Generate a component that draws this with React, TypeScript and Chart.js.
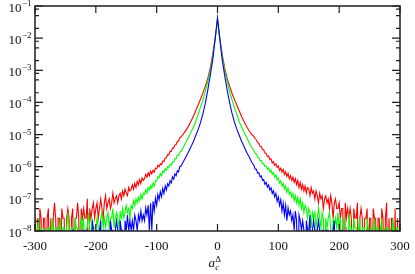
import React, { useEffect, useRef } from "react";
import { Chart, registerables } from "chart.js";

Chart.register(...registerables);

// bin centres (a_c^Δ): step 2 in the tails, step 4 around the peak
const xValues = [
  -300, -298, -296, -294, -292, -290, -288, -286, -284, -282,
  -280, -278, -276, -274, -272, -270, -268, -266, -264, -262,
  -260, -258, -256, -254, -252, -250, -248, -246, -244, -242,
  -240, -238, -236, -234, -232, -230, -228, -226, -224, -222,
  -220, -218, -216, -214, -212, -210, -208, -206, -204, -202,
  -200, -198, -196, -194, -192, -190, -188, -186, -184, -182,
  -180, -178, -176, -174, -172, -170, -168, -166, -164, -162,
  -160, -158, -156, -154, -152, -150, -148, -146, -144, -142,
  -140, -138, -136, -134, -132, -130, -128, -126, -124, -122,
  -120, -118, -116, -114, -112, -110, -108, -106, -104, -102,
  -100, -98, -96, -94, -92, -90, -88, -86, -84, -82,
  -80, -78, -76, -74, -72, -70, -68, -66, -64, -62,
  -60,
  -56, -52, -48, -44, -40, -36, -32, -28, -24, -20, -16, -12, -8, -4,
  0,
  4, 8, 12, 16, 20, 24, 28, 32, 36, 40, 44, 48, 52, 56,
  60, 62, 64, 66, 68, 70, 72, 74, 76, 78,
  80, 82, 84, 86, 88, 90, 92, 94, 96, 98,
  100, 102, 104, 106, 108, 110, 112, 114, 116, 118,
  120, 122, 124, 126, 128, 130, 132, 134, 136, 138,
  140, 142, 144, 146, 148, 150, 152, 154, 156, 158,
  160, 162, 164, 166, 168, 170, 172, 174, 176, 178,
  180, 182, 184, 186, 188, 190, 192, 194, 196, 198,
  200, 202, 204, 206, 208, 210, 212, 214, 216, 218,
  220, 222, 224, 226, 228, 230, 232, 234, 236, 238,
  240, 242, 244, 246, 248, 250, 252, 254, 256, 258,
  260, 262, 264, 266, 268, 270, 272, 274, 276, 278,
  280, 282, 284, 286, 288, 290, 292, 294, 296, 298,
  300,
];

// probability per bin; empty bins are 0
const redValues = [
  2.5e-8, 0, 2.5e-8, 0, 5e-8, 2.5e-8, 0, 2.5e-8, 2.5e-8, 0,
  2.5e-8, 5e-8, 0, 2.5e-8, 0, 2.5e-8, 7.5e-8, 2.5e-8, 0, 2.5e-8,
  2.5e-8, 0, 5e-8, 2.5e-8, 2.5e-8, 0, 2.5e-8, 5e-8, 2.5e-8, 0,
  2.5e-8, 5e-8, 0, 2.5e-8, 2.5e-8, 7.5e-8, 2.5e-8, 0, 5e-8, 2.5e-8,
  5e-8, 2.5e-8, 2.5e-8, 1e-7, 0, 5e-8, 2.5e-8, 5e-8, 7.5e-8, 2.5e-8,
  5e-8, 7.5e-8, 2.5e-8, 5e-8, 1e-7, 5e-8, 2.5e-8, 7.5e-8, 1.25e-7, 5e-8,
  7.5e-8, 1e-7, 5e-8, 7.5e-8, 1.5e-7, 7.5e-8, 1e-7, 1.25e-7, 7.5e-8, 1.25e-7,
  1.5e-7, 1e-7, 1.75e-7, 1.25e-7, 2e-7, 1.5e-7, 1.25e-7, 2.25e-7, 1.75e-7, 2e-7,
  2.75e-7, 2e-7, 3e-7, 2.25e-7, 3.5e-7, 2.75e-7, 4e-7, 3e-7, 4.5e-7, 3.75e-7,
  4.25e-7, 5.75e-7, 4.75e-7, 6.5e-7, 5.25e-7, 7.25e-7, 6e-7, 7.75e-7, 6.75e-7, 9e-7,
  8.75e-7, 1.1e-6, 1e-6, 1.25e-6, 1.15e-6, 1.5e-6, 1.45e-6, 1.875e-6, 1.9e-6, 2.375e-6,
  2.35e-6, 3.0e-6, 3.0e-6, 3.8e-6, 3.8e-6, 4.7e-6, 4.9e-6, 6.1e-6, 6.3e-6, 7.9e-6,
  8.4e-6,
  1.05e-5, 1.35e-5, 1.8e-5, 2.5e-5, 3.6e-5, 5.4e-5, 8.2e-5, 1.25e-4, 1.95e-4, 3.2e-4, 5.6e-4, 1.15e-3, 3.0e-3, 9.5e-3,
  3.7e-2,
  9.3e-3, 2.9e-3, 1.12e-3, 5.5e-4, 3.15e-4, 1.9e-4, 1.22e-4, 8.0e-5, 5.3e-5, 3.5e-5, 2.45e-5, 1.75e-5, 1.32e-5, 1.02e-5,
  8.6e-6, 7.4e-6, 6.8e-6, 5.6e-6, 5.3e-6, 4.3e-6, 4.2e-6, 3.4e-6, 3.3e-6, 2.65e-6,
  2.6e-6, 2.05e-6, 2.15e-6, 1.65e-6, 1.75e-6, 1.3e-6, 1.45e-6, 1.1e-6, 1.22e-6, 9.5e-7,
  1.05e-6, 7.75e-7, 9e-7, 6.75e-7, 8.25e-7, 5.75e-7, 7e-7, 5e-7, 6.25e-7, 4.25e-7,
  5.25e-7, 3.75e-7, 4.75e-7, 3.25e-7, 4.25e-7, 2.75e-7, 3.75e-7, 2.25e-7, 3.25e-7, 2e-7,
  2.75e-7, 1.75e-7, 2.5e-7, 1.5e-7, 2.25e-7, 2e-7, 1.25e-7, 2.25e-7, 1.5e-7, 1.75e-7,
  1e-7, 1.75e-7, 1.25e-7, 7.5e-8, 1.5e-7, 1e-7, 1.25e-7, 5e-8, 1e-7, 1.25e-7,
  7.5e-8, 1e-7, 5e-8, 1.25e-7, 7.5e-8, 2.5e-8, 7.5e-8, 1e-7, 5e-8, 5e-8,
  7.5e-8, 2.5e-8, 5e-8, 5e-8, 0, 7.5e-8, 2.5e-8, 5e-8, 2.5e-8, 5e-8,
  2.5e-8, 0, 5e-8, 2.5e-8, 2.5e-8, 7.5e-8, 0, 2.5e-8, 5e-8, 2.5e-8,
  0, 2.5e-8, 2.5e-8, 5e-8, 0, 2.5e-8, 2.5e-8, 0, 5e-8, 2.5e-8,
  2.5e-8, 0, 2.5e-8, 2.5e-8, 0, 5e-8, 2.5e-8, 0, 2.5e-8, 7.5e-8,
  0, 2.5e-8, 0, 2.5e-8, 2.5e-8, 0, 5e-8, 0, 2.5e-8, 0,
  2.5e-8,
];

const greenValues = [
  1.25e-8, 0, 1.25e-8, 2.5e-8, 0, 1.25e-8, 0, 1.25e-8, 0, 1.25e-8,
  0, 1.25e-8, 1.25e-8, 0, 2.5e-8, 1.25e-8, 0, 1.25e-8, 1.25e-8, 0,
  1.25e-8, 2.5e-8, 0, 1.25e-8, 1.25e-8, 0, 1.25e-8, 3.75e-8, 1.25e-8, 0,
  1.25e-8, 1.25e-8, 0, 2.5e-8, 1.25e-8, 1.25e-8, 0, 1.25e-8, 2.5e-8, 1.25e-8,
  2.5e-8, 0, 1.25e-8, 1.25e-8, 3.75e-8, 1.25e-8, 0, 2.5e-8, 1.25e-8, 1.25e-8,
  1.25e-8, 2.5e-8, 1.25e-8, 0, 2.5e-8, 3.75e-8, 1.25e-8, 2.5e-8, 1.25e-8, 2.5e-8,
  3.75e-8, 1.25e-8, 2.5e-8, 2.5e-8, 5e-8, 1.25e-8, 2.5e-8, 3.75e-8, 2.5e-8, 1.25e-8,
  3.75e-8, 2.5e-8, 5e-8, 2.5e-8, 3.75e-8, 6.25e-8, 3.75e-8, 5e-8, 2.5e-8, 6.25e-8,
  5e-8, 8.75e-8, 6.25e-8, 1e-7, 7.5e-8, 1.125e-7, 8.75e-8, 1.375e-7, 1e-7, 1.5e-7,
  1.375e-7, 1.875e-7, 1.5e-7, 2.25e-7, 1.875e-7, 2.625e-7, 2.125e-7, 3.125e-7, 2.5e-7, 3.625e-7,
  3.6e-7, 4.9e-7, 4.5e-7, 6.1e-7, 5.3e-7, 7.3e-7, 6.6e-7, 8.6e-7, 7.8e-7, 1.0e-6,
  9.2e-7, 1.18e-6, 1.1e-6, 1.42e-6, 1.38e-6, 1.78e-6, 1.75e-6, 2.3e-6, 2.25e-6, 2.85e-6,
  2.95e-6,
  4.0e-6, 5.7e-6, 8.0e-6, 1.15e-5, 1.65e-5, 2.5e-5, 4.1e-5, 7.0e-5, 1.2e-4, 2.2e-4, 4.4e-4, 9.5e-4, 2.5e-3, 9.1e-3,
  3.8e-2,
  8.9e-3, 2.45e-3, 9.3e-4, 4.3e-4, 2.15e-4, 1.18e-4, 6.9e-5, 4.15e-5, 2.45e-5, 1.68e-5, 1.12e-5, 8.2e-6, 5.6e-6, 4.1e-6,
  3.1e-6, 2.55e-6, 2.5e-6, 2.0e-6, 1.95e-6, 1.55e-6, 1.56e-6, 1.22e-6, 1.27e-6, 1.02e-6,
  1.06e-6, 8.4e-7, 9.2e-7, 7.0e-7, 7.9e-7, 5.8e-7, 6.6e-7, 4.8e-7, 5.6e-7, 3.9e-7,
  4.375e-7, 3.125e-7, 3.625e-7, 2.5e-7, 3e-7, 2e-7, 2.5e-7, 1.625e-7, 2.125e-7, 1.375e-7,
  1.625e-7, 1.125e-7, 1.5e-7, 8.75e-8, 1.25e-7, 7.5e-8, 1.125e-7, 6.25e-8, 1e-7, 5e-8,
  7.5e-8, 3.75e-8, 6.25e-8, 5e-8, 2.5e-8, 5e-8, 3.75e-8, 1.25e-8, 3.75e-8, 2.5e-8,
  3.75e-8, 1.25e-8, 2.5e-8, 5e-8, 2.5e-8, 1.25e-8, 3.75e-8, 2.5e-8, 0, 2.5e-8,
  1.25e-8, 2.5e-8, 3.75e-8, 1.25e-8, 0, 2.5e-8, 1.25e-8, 2.5e-8, 1.25e-8, 3.75e-8,
  1.25e-8, 2.5e-8, 0, 1.25e-8, 2.5e-8, 1.25e-8, 1.25e-8, 0, 3.75e-8, 1.25e-8,
  1.25e-8, 0, 2.5e-8, 1.25e-8, 1.25e-8, 0, 1.25e-8, 2.5e-8, 0, 1.25e-8,
  1.25e-8, 1.25e-8, 0, 2.5e-8, 1.25e-8, 0, 1.25e-8, 0, 1.25e-8, 2.5e-8,
  0, 1.25e-8, 1.25e-8, 0, 1.25e-8, 2.5e-8, 0, 1.25e-8, 0, 1.25e-8,
  1.25e-8, 0, 1.25e-8, 0, 2.5e-8, 1.25e-8, 0, 1.25e-8, 1.25e-8, 0,
  1.25e-8,
];

const blueValues = [
  0, 0, 1.05e-8, 0, 0, 0, 0, 1.05e-8, 0, 0,
  0, 1.05e-8, 0, 0, 0, 1.05e-8, 0, 0, 1.05e-8, 0,
  0, 1.05e-8, 0, 1.05e-8, 0, 0, 1.05e-8, 0, 0, 1.05e-8,
  0, 1.05e-8, 1.05e-8, 0, 0, 1.05e-8, 0, 1.05e-8, 0, 1.05e-8,
  1.05e-8, 0, 1.05e-8, 1.05e-8, 0, 1.05e-8, 0, 2.1e-8, 1.05e-8, 0,
  1.05e-8, 1.05e-8, 0, 1.05e-8, 2.1e-8, 0, 1.05e-8, 1.05e-8, 0, 1.05e-8,
  1.05e-8, 0, 2.1e-8, 1.05e-8, 1.05e-8, 0, 1.05e-8, 2.1e-8, 1.05e-8, 0,
  2.1e-8, 1.05e-8, 1.05e-8, 0, 2.1e-8, 1.05e-8, 3.15e-8, 1.05e-8, 2.1e-8, 1.05e-8,
  2.1e-8, 1.05e-8, 3.15e-8, 2.1e-8, 1.05e-8, 3.15e-8, 2.1e-8, 4.2e-8, 2.1e-8, 3.15e-8,
  2.1e-8, 5.25e-8, 3.15e-8, 6.3e-8, 1.05e-8, 7.35e-8, 1.05e-8, 8.4e-8, 4.2e-8, 1.05e-7,
  6.3e-8, 1.365e-7, 9.45e-8, 1.68e-7, 1.155e-7, 2.1e-7, 1.47e-7, 2.52e-7, 1.89e-7, 2.94e-7,
  2.52e-7, 3.675e-7, 3.15e-7, 4.83e-7, 4.1e-7, 6.0e-7, 5.25e-7, 7.45e-7, 6.9e-7, 1.0e-6,
  1.05e-6,
  1.45e-6, 2.0e-6, 2.8e-6, 4.0e-6, 5.9e-6, 9.0e-6, 1.4e-5, 2.35e-5, 4.4e-5, 9.5e-5, 2.4e-4, 6.8e-4, 2.0e-3, 8.9e-3,
  4.3e-2,
  8.7e-3, 1.95e-3, 6.6e-4, 2.35e-4, 9.7e-5, 4.5e-5, 2.4e-5, 1.42e-5, 9.2e-6, 6.0e-6, 4.1e-6, 2.75e-6, 2.05e-6, 1.4e-6,
  1.09e-6, 8.4e-7, 8.3e-7, 6.3e-7, 6.4e-7, 4.83e-7, 5.15e-7, 3.78e-7, 4.0e-7, 2.84e-7,
  3.26e-7, 2.31e-7, 2.73e-7, 1.89e-7, 2.2e-7, 1.47e-7, 1.79e-7, 1.155e-7, 1.47e-7, 8.4e-8,
  1.155e-7, 6.3e-8, 9.45e-8, 4.2e-8, 7.35e-8, 3.15e-8, 6.3e-8, 2.1e-8, 5.25e-8, 3.15e-8,
  4.2e-8, 2.1e-8, 3.15e-8, 1.05e-8, 4.2e-8, 2.1e-8, 0, 3.15e-8, 2.1e-8, 1.05e-8,
  2.1e-8, 1.05e-8, 0, 2.1e-8, 1.05e-8, 1.05e-8, 3.15e-8, 0, 1.05e-8, 2.1e-8,
  1.05e-8, 0, 1.05e-8, 2.1e-8, 1.05e-8, 0, 1.05e-8, 1.05e-8, 0, 1.05e-8,
  1.05e-8, 1.05e-8, 0, 1.05e-8, 0, 1.05e-8, 2.1e-8, 0, 1.05e-8, 0,
  1.05e-8, 0, 1.05e-8, 1.05e-8, 0, 0, 1.05e-8, 0, 1.05e-8, 1.05e-8,
  0, 1.05e-8, 0, 1.05e-8, 0, 1.05e-8, 0, 0, 1.05e-8, 0,
  1.05e-8, 0, 0, 1.05e-8, 0, 1.05e-8, 0, 1.05e-8, 0, 0,
  1.05e-8, 0, 1.05e-8, 0, 0, 1.05e-8, 0, 0, 0, 1.05e-8,
  0, 0, 0, 1.05e-8, 0, 0, 0, 0, 1.05e-8, 0,
  0,
];

const xTickValues = [-300, -200, -100, 0, 100, 200, 300];
const xTickLabels = ["-300", "-200", "-100", "0", "100", "200", "300"];
const yTickExponents = [-8, -7, -6, -5, -4, -3, -2, -1];
const yTickSuperscripts = ["−8", "−7", "−6", "−5", "−4", "−3", "−2", "−1"];
const yMinorMultipliers = [2, 5, 8];

// empty bins are drawn towards −∞ (below the visible range), as on a log plot
const BELOW_AXIS = 1e-10;

const SERIF = '"Liberation Serif", "DejaVu Serif", serif';

const framePlugin = {
  id: "framePlugin",
  afterDraw(chart: any) {
    const { ctx, chartArea: a, scales } = chart;
    const xs = scales.x;
    const ys = scales.y;
    ctx.save();
    ctx.strokeStyle = "#1e1e1e";
    ctx.lineWidth = 1.5;
    ctx.strokeRect(a.left, a.top, a.right - a.left, a.bottom - a.top);

    ctx.lineWidth = 1.2;
    ctx.beginPath();
    for (const v of xTickValues) {
      const px = xs.getPixelForValue(v);
      ctx.moveTo(px, a.bottom);
      ctx.lineTo(px, a.bottom - 7);
      ctx.moveTo(px, a.top);
      ctx.lineTo(px, a.top + 7);
    }
    for (const e of yTickExponents) {
      const py = ys.getPixelForValue(Math.pow(10, e));
      ctx.moveTo(a.left, py);
      ctx.lineTo(a.left + 8, py);
      ctx.moveTo(a.right, py);
      ctx.lineTo(a.right - 8, py);
      if (e < -1) {
        for (const m of yMinorMultipliers) {
          const pm = ys.getPixelForValue(m * Math.pow(10, e));
          ctx.moveTo(a.left, pm);
          ctx.lineTo(a.left + 4, pm);
          ctx.moveTo(a.right, pm);
          ctx.lineTo(a.right - 4, pm);
        }
      }
    }
    ctx.stroke();

    ctx.fillStyle = "#111";
    ctx.textBaseline = "alphabetic";
    ctx.font = `13px ${SERIF}`;
    ctx.textAlign = "center";
    xTickValues.forEach((v, i) => {
      ctx.fillText(xTickLabels[i], xs.getPixelForValue(v), 250);
    });

    ctx.textAlign = "left";
    yTickExponents.forEach((e, i) => {
      const py = ys.getPixelForValue(Math.pow(10, e));
      ctx.font = `13px ${SERIF}`;
      const wb = ctx.measureText("10").width;
      ctx.font = `9px ${SERIF}`;
      const ws = ctx.measureText(yTickSuperscripts[i]).width;
      const x0 = 31 - wb - ws;
      ctx.font = `13px ${SERIF}`;
      ctx.fillText("10", x0, py + 5.5);
      ctx.font = `9px ${SERIF}`;
      ctx.fillText(yTickSuperscripts[i], x0 + wb + 0.5, py);
    });

    // axis title a_c^Δ
    ctx.font = `italic 13px ${SERIF}`;
    const wa = ctx.measureText("a").width;
    const tx = 208.5;
    ctx.fillText("a", tx, 267);
    ctx.font = `italic 9px ${SERIF}`;
    ctx.fillText("c", tx + wa + 0.3, 270);
    ctx.font = `9px ${SERIF}`;
    ctx.fillText("Δ", tx + wa + 0.3, 261.5);
    ctx.restore();
  },
};

export default function App() {
  const ref = useRef<HTMLCanvasElement>(null);
  useEffect(() => {
    const mk = (vals: number[]) =>
      xValues.map((x, i) => ({ x, y: vals[i] > 0 ? vals[i] : BELOW_AXIS }));
    const chart = new Chart(ref.current as HTMLCanvasElement, {
      type: "line",
      data: {
        datasets: [
          { data: mk(redValues), borderColor: "rgb(255,0,0)", borderWidth: 1.1, pointRadius: 0, tension: 0, fill: false, order: 2 },
          { data: mk(greenValues), borderColor: "rgb(0,255,0)", borderWidth: 1.1, pointRadius: 0, tension: 0, fill: false, order: 1 },
          { data: mk(blueValues), borderColor: "rgb(0,0,255)", borderWidth: 1.1, pointRadius: 0, tension: 0, fill: false, order: 0 },
        ],
      },
      options: {
        animation: false,
        responsive: false,
        devicePixelRatio: 1,
        layout: { padding: { top: 6, right: 15, left: 0, bottom: 0 } },
        plugins: { legend: { display: false }, tooltip: { enabled: false } },
        scales: {
          x: {
            type: "linear",
            min: -300,
            max: 300,
            ticks: { display: false },
            grid: { display: false },
            border: { display: false },
            afterFit: (s: any) => { s.height = 43; },
          },
          y: {
            type: "logarithmic",
            min: 1e-8,
            max: 1e-1,
            ticks: { display: false },
            grid: { display: false },
            border: { display: false },
            afterFit: (s: any) => { s.width = 35; },
          },
        },
      } as any,
      plugins: [framePlugin],
    });
    return () => chart.destroy();
  }, []);
  return (
    <div style={{ position: "fixed", left: 0, top: 0, width: 415, height: 274, background: "#fff" }}>
      <canvas ref={ref} width={415} height={274} style={{ display: "block", width: 415, height: 274 }} />
    </div>
  );
}
